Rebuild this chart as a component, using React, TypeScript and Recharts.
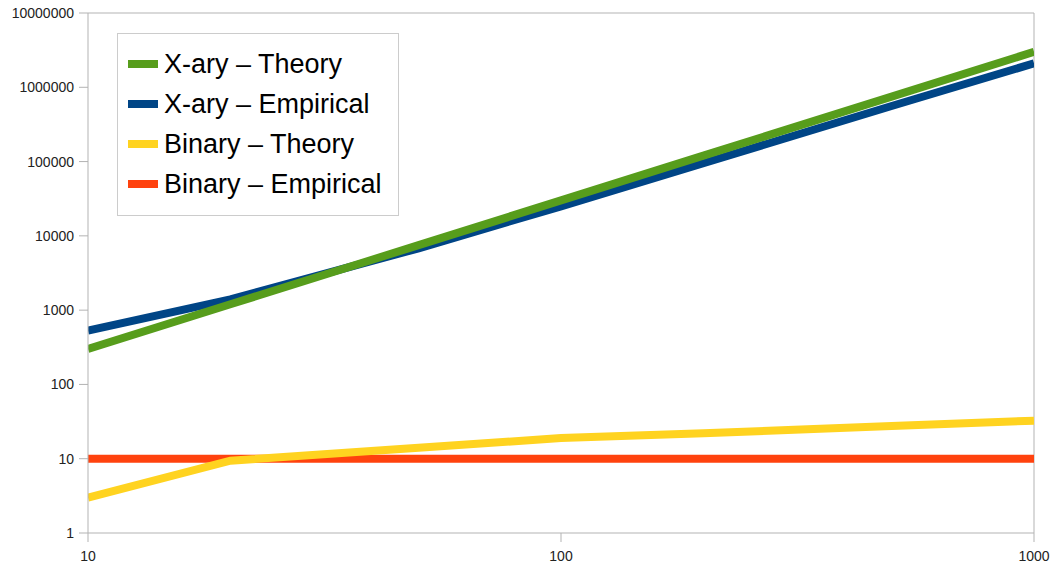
import React from 'react';
import { LineChart, Line, XAxis, YAxis, ReferenceLine, Legend } from 'recharts';

// Problem sizes (x) and measured/predicted operation counts (y), log-log
const sizes = [10, 20, 50, 100, 200, 500, 1000];
const xaryTheory = [300, 1200, 7500, 30000, 120000, 750000, 3000000];
const xaryEmpirical = [530, 1400, 6800, 25000, 95000, 560000, 2100000];
const binaryTheory = [3, 9.4, 14, 19, 22, 27.5, 32.5];
const binaryEmpirical = [10, 10, 10, 10, 10, 10, 10];

const xTicks = [10, 100, 1000];
const yTicks = [1, 10, 100, 1000, 10000, 100000, 1000000, 10000000];

const seriesInfo = [
  { key: 'xaryTheory', name: 'X-ary – Theory', color: '#579d1c' },
  { key: 'xaryEmpirical', name: 'X-ary – Empirical', color: '#004586' },
  { key: 'binaryTheory', name: 'Binary – Theory', color: '#ffd320' },
  { key: 'binaryEmpirical', name: 'Binary – Empirical', color: '#ff420e' },
];

// drawing order: empirical beneath theory
const drawOrder = ['xaryEmpirical', 'xaryTheory', 'binaryEmpirical', 'binaryTheory'];

const data = sizes.map((n, i) => ({
  n,
  xaryTheory: xaryTheory[i],
  xaryEmpirical: xaryEmpirical[i],
  binaryTheory: binaryTheory[i],
  binaryEmpirical: binaryEmpirical[i],
}));

const FONT = '"Liberation Sans", Arial, sans-serif';
const AXIS = '#b3b3b3';

const LegendBox = () => (
  <div
    style={{
      border: '1px solid #cccccc',
      background: '#ffffff',
      padding: '10px 16px 11px 10px',
      fontFamily: FONT,
      fontSize: 27,
      color: '#000',
    }}
  >
    {seriesInfo.map((s) => (
      <div key={s.key} style={{ display: 'flex', alignItems: 'center', height: 40, whiteSpace: 'nowrap' }}>
        <span style={{ display: 'inline-block', width: 30, height: 8, background: s.color, marginRight: 6 }} />
        <span>{s.name}</span>
      </div>
    ))}
  </div>
);

export default function App() {
  return (
    <div style={{ position: 'absolute', left: 0, top: 0, width: 1055, height: 571, background: '#fff' }}>
      <LineChart
        width={1055}
        height={571}
        data={data}
        margin={{ top: 13, right: 21, bottom: 0, left: 0 }}
      >
        <XAxis
          dataKey="n"
          type="number"
          scale="log"
          domain={[10, 1000]}
          ticks={xTicks}
          allowDataOverflow
          height={38}
          stroke={AXIS}
          tickSize={9}
          tickMargin={9}
          tick={{ fill: '#222', fontSize: 14, fontFamily: FONT }}
        />
        <YAxis
          type="number"
          scale="log"
          domain={[1, 10000000]}
          ticks={yTicks}
          allowDataOverflow
          width={88}
          stroke={AXIS}
          tickSize={9}
          tickMargin={5}
          interval={0}
          tick={{ fill: '#222', fontSize: 14, fontFamily: FONT }}
        />
        <ReferenceLine y={10000000} stroke={AXIS} strokeWidth={1} />
        <ReferenceLine x={1000} stroke={AXIS} strokeWidth={1} />
        {drawOrder.map((k) => {
          const s = seriesInfo.find((d) => d.key === k)!;
          return (
            <Line
              key={k}
              type="linear"
              dataKey={k}
              name={s.name}
              stroke={s.color}
              strokeWidth={8}
              dot={false}
              activeDot={false}
              isAnimationActive={false}
            />
          );
        })}
        <Legend
          layout="vertical"
          align="center"
          verticalAlign="middle"
          content={<LegendBox />}
          wrapperStyle={{ position: 'absolute', left: 117, top: 33, width: 'auto', height: 'auto' }}
        />
      </LineChart>
    </div>
  );
}
